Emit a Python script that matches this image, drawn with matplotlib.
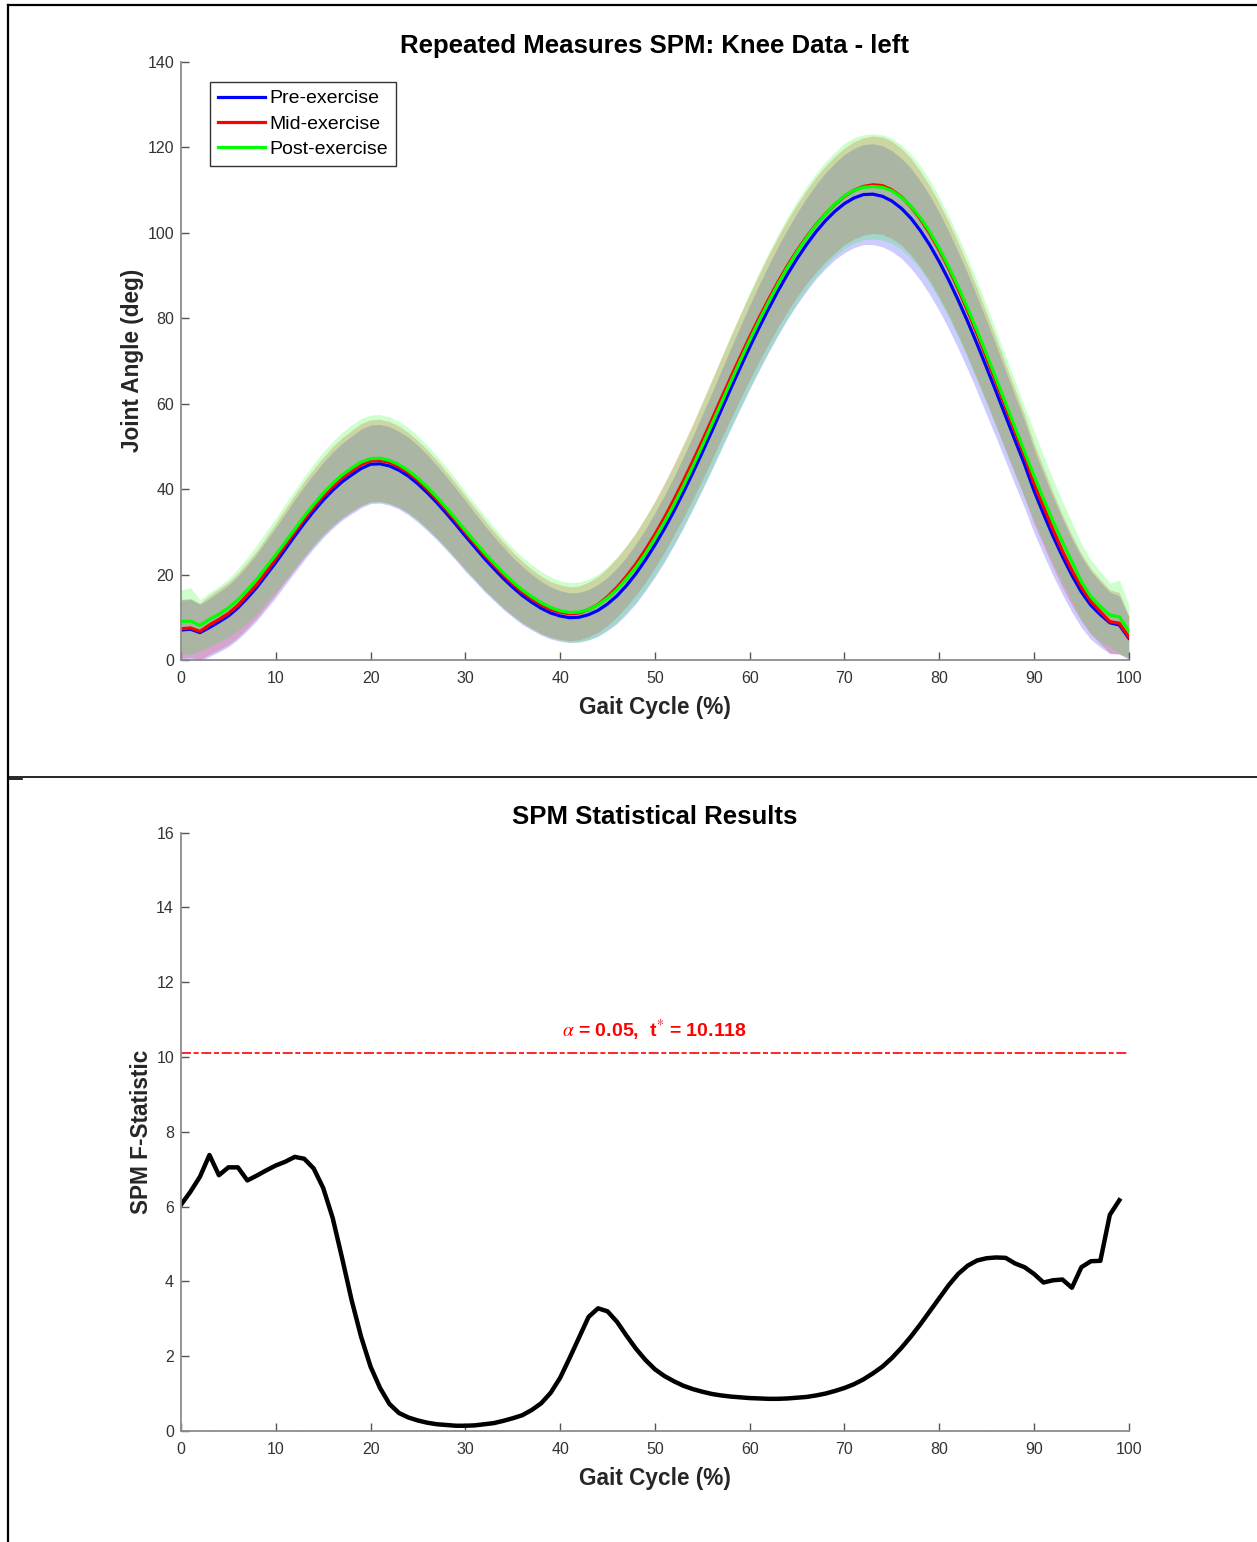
import numpy as np
import matplotlib.pyplot as plt
from matplotlib.lines import Line2D

plt.rcParams['font.family'] = ['Liberation Sans', 'DejaVu Sans']
plt.rcParams['mathtext.fontset'] = 'stix'

# Step 1: Data (gait cycle 0..100 %)
gait = np.arange(101)

pre_mean = [7.0, 7.2, 6.4, 7.6, 8.9, 10.3, 12.2, 14.5, 17.0, 19.9,
            22.8, 25.9, 29.0, 32.0, 34.8, 37.4, 39.7, 41.7, 43.3, 44.8,
            45.8, 45.9, 45.4, 44.4, 43.0, 41.2, 39.1, 36.8, 34.3, 31.7,
            29.0, 26.4, 23.8, 21.4, 19.1, 17.0, 15.1, 13.5, 12.1, 11.0,
            10.3, 9.9, 10.0, 10.6, 11.6, 13.1, 15.0, 17.4, 20.2, 23.4,
            26.9, 30.7, 34.8, 39.2, 43.8, 48.6, 53.5, 58.5, 63.5, 68.4,
            73.2, 77.8, 82.2, 86.4, 90.3, 93.9, 97.2, 100.2, 102.8, 105.0,
            106.8, 108.1, 108.9, 109.0, 108.5, 107.4, 105.7, 103.4, 100.5, 97.1,
            93.2, 88.9, 84.2, 79.2, 73.9, 68.4, 62.8, 57.1, 51.4, 45.8,
            39.6, 34.2, 29.0, 24.2, 19.8, 15.9, 12.8, 10.6, 8.7, 8.2,
            5.1]
mid_mean = [7.3, 7.5, 6.7, 8.2, 9.5, 10.9, 12.8, 15.2, 17.7, 20.7,
            23.7, 26.8, 29.9, 32.9, 35.7, 38.3, 40.6, 42.6, 44.2, 45.7,
            46.6, 46.7, 46.2, 45.2, 43.8, 42.0, 39.9, 37.6, 35.1, 32.5,
            29.8, 27.2, 24.6, 22.2, 19.9, 17.8, 15.9, 14.3, 12.9, 11.8,
            11.2, 10.8, 11.0, 11.8, 13.0, 14.8, 17.0, 19.6, 22.5, 25.8,
            29.4, 33.3, 37.5, 41.9, 46.5, 51.3, 56.2, 61.2, 66.1, 70.9,
            75.6, 80.1, 84.4, 88.5, 92.3, 95.8, 99.0, 101.9, 104.4, 106.6,
            108.5, 109.9, 110.8, 111.2, 111.0, 110.0, 108.4, 106.1, 103.2, 99.8,
            95.9, 91.6, 86.8, 81.7, 76.3, 70.7, 65.0, 59.2, 53.4, 47.7,
            41.3, 35.9, 30.5, 25.5, 21.0, 17.0, 13.7, 11.3, 9.0, 8.6,
            5.4]
post_mean = [9.0, 9.1, 8.1, 9.5, 10.7, 12.2, 14.1, 16.4, 18.9, 21.8,
             24.6, 27.6, 30.6, 33.6, 36.4, 39.0, 41.3, 43.3, 44.9, 46.3,
             47.1, 47.2, 46.7, 45.7, 44.3, 42.5, 40.4, 38.1, 35.6, 33.0,
             30.3, 27.7, 25.1, 22.7, 20.4, 18.3, 16.4, 14.8, 13.4, 12.3,
             11.5, 11.1, 11.2, 11.8, 12.9, 14.5, 16.5, 19.0, 21.7, 24.9,
             28.4, 32.2, 36.3, 40.7, 45.3, 50.1, 55.1, 60.1, 65.1, 70.0,
             74.8, 79.4, 83.8, 88.0, 91.9, 95.5, 98.8, 101.8, 104.4, 106.7,
             108.6, 109.9, 110.6, 110.8, 110.6, 109.8, 108.3, 106.2, 103.5, 100.2,
             96.3, 92.0, 87.3, 82.3, 77.0, 71.5, 65.8, 60.1, 54.4, 48.7,
             43.1, 37.7, 32.5, 27.6, 23.0, 18.3, 14.8, 12.5, 10.5, 10.1,
             6.8]

pre_sd = [7.0, 7.0, 6.6, 6.8, 7.0, 7.2, 7.4, 7.6, 7.8, 8.0,
          8.2, 8.3, 8.5, 8.6, 8.7, 8.8, 8.9, 9.0, 9.1, 9.2,
          9.2, 9.2, 9.2, 9.1, 9.1, 9.0, 8.9, 8.7, 8.6, 8.4,
          8.3, 8.0, 7.8, 7.5, 7.3, 7.0, 6.8, 6.5, 6.3, 6.1,
          5.9, 5.8, 5.8, 5.9, 6.1, 6.2, 6.5, 6.7, 7.0, 7.2,
          7.5, 7.8, 8.0, 8.3, 8.5, 8.8, 9.0, 9.2, 9.4, 9.6,
          9.8, 10.0, 10.2, 10.4, 10.5, 10.7, 10.9, 11.0, 11.2, 11.3,
          11.5, 11.6, 11.7, 11.8, 11.8, 11.8, 11.7, 11.7, 11.6, 11.6,
          11.5, 11.4, 11.3, 11.2, 11.1, 11.0, 10.8, 10.6, 10.4, 10.2,
          9.8, 9.5, 9.2, 8.9, 8.6, 8.3, 8.0, 7.6, 7.2, 6.8,
          5.0]
mid_sd = [6.9, 6.9, 6.6, 6.9, 7.1, 7.3, 7.5, 7.7, 7.9, 8.1,
          8.3, 8.5, 8.7, 8.9, 9.0, 9.1, 9.3, 9.4, 9.5, 9.6,
          9.6, 9.6, 9.6, 9.5, 9.4, 9.3, 9.2, 9.1, 8.9, 8.8,
          8.6, 8.4, 8.2, 7.9, 7.7, 7.4, 7.2, 6.9, 6.7, 6.5,
          6.4, 6.3, 6.3, 6.4, 6.5, 6.7, 6.9, 7.1, 7.3, 7.6,
          7.8, 8.1, 8.3, 8.6, 8.8, 9.1, 9.3, 9.5, 9.7, 9.9,
          10.0, 10.2, 10.4, 10.5, 10.7, 10.8, 10.9, 11.1, 11.2, 11.3,
          11.3, 11.4, 11.4, 11.4, 11.4, 11.4, 11.3, 11.3, 11.2, 11.1,
          11.0, 10.9, 10.8, 10.7, 10.6, 10.4, 10.3, 10.1, 9.9, 9.7,
          9.4, 9.1, 8.8, 8.5, 8.2, 7.9, 7.7, 7.5, 7.4, 7.2,
          5.0]
post_sd = [7.4, 7.8, 6.0, 6.3, 6.5, 6.8, 7.2, 7.6, 8.0, 8.3,
           8.6, 8.9, 9.1, 9.3, 9.5, 9.7, 9.8, 10.0, 10.1, 10.2,
           10.2, 10.2, 10.2, 10.1, 10.0, 9.9, 9.8, 9.6, 9.5, 9.3,
           9.1, 8.9, 8.7, 8.4, 8.2, 7.9, 7.7, 7.5, 7.3, 7.1,
           7.0, 7.0, 7.0, 7.1, 7.2, 7.4, 7.6, 7.8, 8.1, 8.4,
           8.6, 8.9, 9.2, 9.5, 9.7, 10.0, 10.3, 10.5, 10.8, 11.0,
           11.2, 11.4, 11.5, 11.7, 11.8, 11.9, 12.0, 12.1, 12.2, 12.2,
           12.3, 12.3, 12.3, 12.3, 12.3, 12.3, 12.2, 12.2, 12.1, 12.1,
           12.0, 11.9, 11.8, 11.7, 11.6, 11.4, 11.2, 11.0, 10.8, 10.6,
           10.4, 10.1, 9.8, 9.5, 9.2, 8.9, 8.6, 8.2, 7.5, 8.6,
           6.1]

# SPM{F} statistic (nodes 0..99) and critical threshold
spm_f = [6.05, 6.4, 6.8, 7.38, 6.84, 7.05, 7.05, 6.7, 6.83, 6.97,
         7.1, 7.2, 7.33, 7.28, 7.02, 6.5, 5.7, 4.62, 3.5, 2.52,
         1.72, 1.15, 0.72, 0.48, 0.36, 0.28, 0.22, 0.18, 0.16, 0.14,
         0.14, 0.15, 0.18, 0.21, 0.27, 0.34, 0.42, 0.56, 0.74, 1.02,
         1.42, 1.95, 2.5, 3.05, 3.28, 3.2, 2.92, 2.55, 2.2, 1.9,
         1.65, 1.47, 1.33, 1.21, 1.12, 1.05, 0.99, 0.95, 0.92, 0.9,
         0.88, 0.87, 0.86, 0.86, 0.87, 0.89, 0.91, 0.95, 1.0, 1.07,
         1.15, 1.25, 1.38, 1.54, 1.72, 1.95, 2.22, 2.52, 2.85, 3.2,
         3.55, 3.9, 4.2, 4.42, 4.56, 4.62, 4.64, 4.63, 4.48, 4.38,
         4.2, 3.97, 4.03, 4.05, 3.83, 4.38, 4.54, 4.55, 5.78, 6.17]
spm_x = np.arange(len(spm_f))
alpha_level = 0.05
f_crit = 10.118

conditions = ['Pre-exercise', 'Mid-exercise', 'Post-exercise']
means = [pre_mean, mid_mean, post_mean]
sds = [pre_sd, mid_sd, post_sd]
colors = ['#0000ff', '#ff0000', '#00ff00']

axis_grey = '#8c8c8c'
text_grey = '#333333'


def style_axes(ax, ymax, ystep):
    for side in ['top', 'right']:
        ax.spines[side].set_visible(False)
    for side in ['left', 'bottom']:
        ax.spines[side].set_color(axis_grey)
        ax.spines[side].set_linewidth(1.3)
    ax.set_xlim(0, 100)
    ax.set_ylim(0, ymax)
    ax.set_xticks(np.arange(0, 101, 10))
    ax.set_yticks(np.arange(0, ymax + 1, ystep))
    ax.tick_params(direction='in', length=6, width=1, color='#555555',
                   labelsize=11.5, labelcolor=text_grey)
    ax.tick_params(axis='x', pad=8)
    ax.tick_params(axis='y', pad=5)
    ax.set_xlabel('Gait Cycle (%)', fontsize=16.3, fontweight='bold',
                  color='#262626', labelpad=7)


fig = plt.figure(figsize=(12.57, 15.42), dpi=100)

# Step 2: top panel - mean +/- SD curves
ax1 = fig.add_axes([0.144, 0.572, 0.754, 0.388])
for m, s, c in zip(means, sds, colors):
    m = np.array(m)
    s = np.array(s)
    ax1.fill_between(gait, m - s, m + s, color=c, alpha=0.2, linewidth=0)
    ax1.plot(gait, m, color=c, linewidth=2.3)
style_axes(ax1, 140, 20)
ax1.set_ylabel('Joint Angle (deg)', fontsize=16.3, fontweight='bold',
               color='#262626', labelpad=2.5)
ax1.set_title('Repeated Measures SPM: Knee Data - left', fontsize=18.5,
              fontweight='bold', pad=6.5)

handles = [Line2D([0], [0], color=c, linewidth=2.3) for c in colors]
leg = ax1.legend(handles, conditions, loc='upper left',
                 bbox_to_anchor=(0.0306, 0.9666), borderaxespad=0,
                 fontsize=14, handlelength=2.4, handletextpad=0.25,
                 labelspacing=0.4, borderpad=0.42, fancybox=False,
                 framealpha=1)
leg.get_frame().set_edgecolor('#333333')
leg.get_frame().set_linewidth(1.0)

# Step 3: bottom panel - SPM F statistic
ax2 = fig.add_axes([0.144, 0.072, 0.754, 0.388])
ax2.plot(spm_x, spm_f, color='black', linewidth=3.2)
ax2.plot([0, 99], [0, 0], color='black', linestyle=':', linewidth=1.0)
ax2.axhline(f_crit, color='red', linewidth=1.2,
            linestyle=(0, (6, 1.6, 3, 1.6)))
ax2.text(50, f_crit + 0.42,
         r'$\alpha$ = %.2f,  t$^{*}$ = %.3f' % (alpha_level, f_crit),
         color='red', fontsize=14, fontweight='bold',
         ha='center', va='baseline')
style_axes(ax2, 16, 2)
ax2.set_ylabel('SPM F-Statistic', fontsize=16.3, fontweight='bold',
               color='#262626', labelpad=2.5)
ax2.set_title('SPM Statistical Results', fontsize=18.5, fontweight='bold',
              pad=6.5)

# Step 4: frame lines of the surrounding table
fig.add_artist(Line2D([8 / 1257, 1.0], [1 - 5 / 1542, 1 - 5 / 1542],
                      color='black', linewidth=1.6))
fig.add_artist(Line2D([8 / 1257, 8 / 1257], [0, 1 - 5 / 1542],
                      color='black', linewidth=1.6))
fig.add_artist(Line2D([8 / 1257, 1.0], [1 - 777 / 1542, 1 - 777 / 1542],
                      color='black', linewidth=1.2))
fig.add_artist(Line2D([8 / 1257, 22 / 1257], [1 - 779 / 1542, 1 - 779 / 1542],
                      color='black', linewidth=1.2))

fig.savefig('out.png', dpi=100)
